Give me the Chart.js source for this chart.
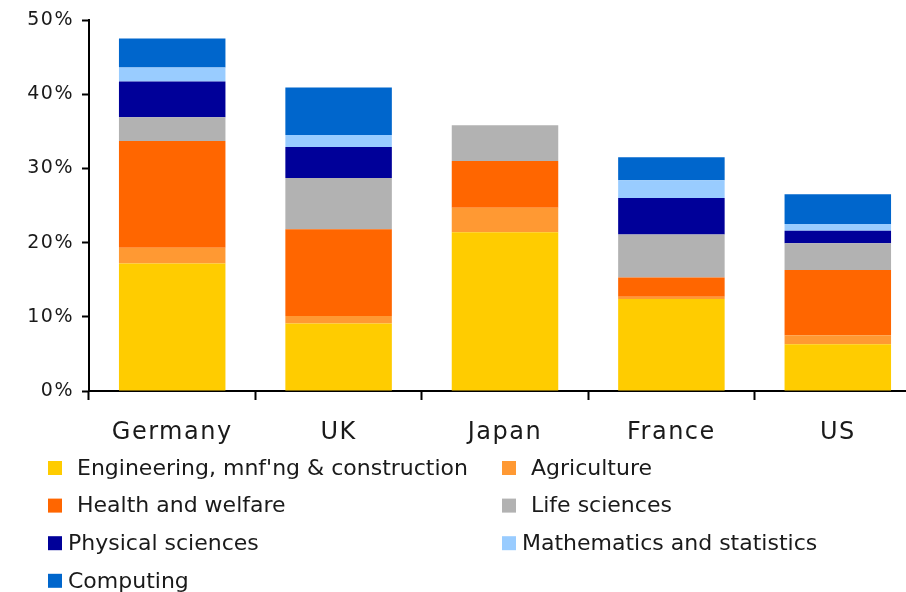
<!DOCTYPE html>
<html>
<head>
<meta charset="utf-8">
<script src="https://cdn.jsdelivr.net/npm/chart.js@4"></script>
<style>
  html, body { margin: 0; padding: 0; background: #fff; overflow: hidden; }
  #wrap { position: relative; width: 925px; height: 592px; }
</style>
</head>
<body>
<div id="wrap"><canvas id="myChart"></canvas></div>
<script>
// share of graduates by field, percent
var countries = ['Germany', 'UK', 'Japan', 'France', 'US'];
var engineering = [17.2, 9.1, 21.4, 12.4, 6.3];
var agriculture = [2.1, 1.0, 3.3, 0.3, 1.2];
var health = [14.4, 11.7, 6.3, 2.6, 8.8];
var lifeSciences = [3.2, 6.9, 4.8, 5.8, 3.6];
var physical = [4.8, 4.2, 0, 4.9, 1.7];
var maths = [1.9, 1.6, 0, 2.4, 0.9];
var computing = [3.9, 6.4, 0, 3.1, 4.0];
var yTicks = [0, 10, 20, 30, 40, 50];

var textColor = '#1a1a1a';

// slightly looser letter spacing for the axis labels
var spacing = {
  id: 'spacing',
  beforeLayout: function(chart) { chart.ctx.letterSpacing = '1.5px'; },
  beforeDraw: function(chart) { chart.ctx.letterSpacing = '1.5px'; }
};

// two column legend under the axis
var sideLegend = {
  id: 'sideLegend',
  afterDraw: function(chart) {
    var ctx = chart.ctx;
    ctx.save();
    ctx.letterSpacing = '0px';
    ctx.font = '22px "DejaVu Sans"';
    ctx.fillStyle = textColor;
    ctx.textBaseline = 'middle';
    var top = chart.chartArea.bottom + 77;
    chart.data.datasets.forEach(function(ds, i) {
      var col = i % 2, row = Math.floor(i / 2);
      var x = col === 0 ? 48 : 502;
      var y = top + row * 37.6;
      ctx.fillStyle = ds.backgroundColor;
      ctx.fillRect(x, y - 7, 14, 14);
      ctx.fillStyle = textColor;
      var gap = i < 4 ? 29 : 20;
      ctx.fillText(ds.label, x + gap, y + 1);
    });
    ctx.restore();
  }
};

var ctx = document.getElementById('myChart').getContext('2d');
var myChart = new Chart(ctx, {
  type: 'bar',
  data: {
    labels: countries,
    datasets: [
      { label: "Engineering, mnf'ng & construction", data: engineering, backgroundColor: '#FFCC00' },
      { label: 'Agriculture', data: agriculture, backgroundColor: '#FF9933' },
      { label: 'Health and welfare', data: health, backgroundColor: '#FF6600' },
      { label: 'Life sciences', data: lifeSciences, backgroundColor: '#B2B2B2' },
      { label: 'Physical sciences', data: physical, backgroundColor: '#000099' },
      { label: 'Mathematics and statistics', data: maths, backgroundColor: '#99CCFF' },
      { label: 'Computing', data: computing, backgroundColor: '#0066CC' }
    ]
  },
  options: {
    responsive: true,
    maintainAspectRatio: false,
    animation: false,
    datasets: {
      bar: { categoryPercentage: 1, barPercentage: 0.64, borderWidth: 0 }
    },
    layout: { padding: { top: 20, left: 0, right: 4, bottom: 141 } },
    plugins: {
      legend: { display: false },
      tooltip: { enabled: false }
    },
    scales: {
      x: {
        stacked: true,
        border: { display: true, color: '#000', width: 2 },
        grid: { display: true, drawOnChartArea: false, drawTicks: true, tickLength: 9, tickColor: '#000', tickWidth: 2, offset: true },
        ticks: { color: textColor, font: { family: 'DejaVu Sans', size: 24 }, padding: 18, maxRotation: 0 },
        afterFit: function(scale) { scale.height = 60; }
      },
      y: {
        stacked: true,
        min: 0,
        max: 50,
        border: { display: true, color: '#000', width: 2 },
        grid: { display: true, drawOnChartArea: false, drawTicks: true, tickLength: 7, tickColor: '#000', tickWidth: 2 },
        afterBuildTicks: function(scale) {
          scale.ticks = yTicks.map(function(v) { return { value: v }; });
        },
        ticks: {
          color: textColor,
          font: { family: 'DejaVu Sans', size: 19 },
          padding: 8,
          callback: function(v) { return v + '%'; }
        },
        afterFit: function(scale) { scale.width = 89; }
      }
    }
  },
  plugins: [spacing, sideLegend]
});
</script>
</body>
</html>
